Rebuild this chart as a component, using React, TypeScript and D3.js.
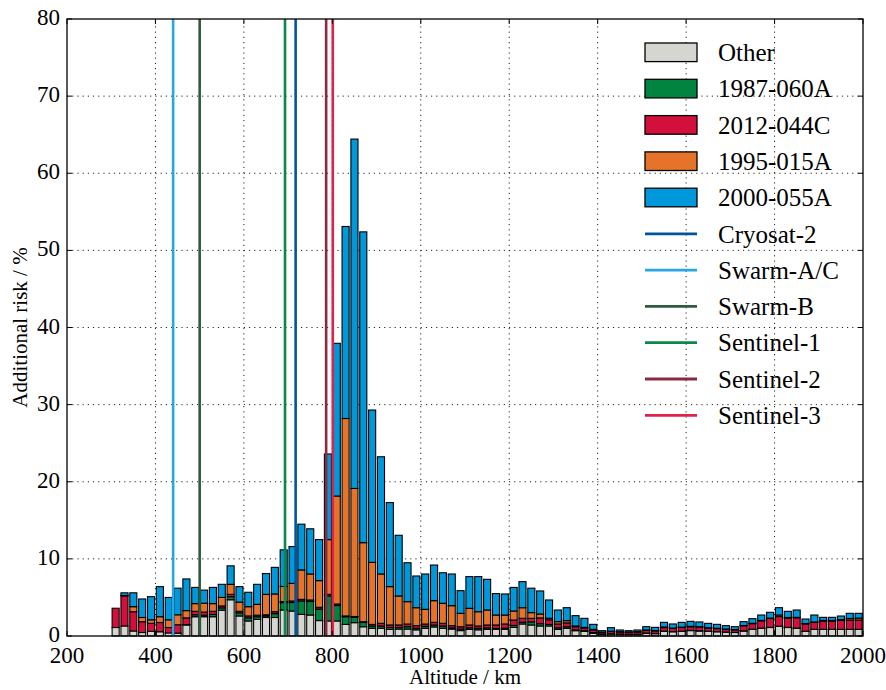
import React from 'react';
import * as d3 from 'd3';

// Bin start altitudes (km), 20 km bins
const binStart = [
  300, 320, 340, 360, 380, 400, 420, 440, 460, 480,
  500, 520, 540, 560, 580, 600, 620, 640, 660, 680,
  700, 720, 740, 760, 780, 800, 820, 840, 860, 880,
  900, 920, 940, 960, 980, 1000, 1020, 1040, 1060, 1080,
  1100, 1120, 1140, 1160, 1180, 1200, 1220, 1240, 1260, 1280,
  1300, 1320, 1340, 1360, 1380, 1400, 1420, 1440, 1460, 1480,
  1500, 1520, 1540, 1560, 1580, 1600, 1620, 1640, 1660, 1680,
  1700, 1720, 1740, 1760, 1780, 1800, 1820, 1840, 1860, 1880,
  1900, 1920, 1940, 1960, 1980,
];

const otherRisk = [
  1.1, 1.3, 0.65, 0.45, 0.6, 0.55, 0.4, 0.35, 1.43, 2.5,
  2.5, 2.5, 3.35, 4.7, 2.6, 1.95, 2.15, 2.4, 2.4, 3.37,
  3.24, 2.8, 2.72, 2.0, 1.95, 1.95, 1.5, 1.73, 1.2, 1.0,
  1.0, 0.86, 0.9, 0.9, 0.8, 1.0, 1.17, 1.0, 0.9, 0.7,
  0.86, 0.8, 0.86, 0.86, 0.86, 1.12, 1.56, 1.43, 1.3, 1.3,
  0.86, 1.0, 0.69, 0.6, 0.35, 0.2, 0.25, 0.2, 0.2, 0.2,
  0.35, 0.3, 0.6, 0.55, 0.6, 0.7, 0.65, 0.6, 0.55, 0.5,
  0.45, 0.65, 0.85, 1.0, 1.1, 1.25, 1.1, 1.0, 0.6, 0.85,
  0.85, 0.85, 0.85, 0.85, 0.85,
];

const risk1987060A = [
  0, 0, 0, 0, 0, 0, 0, 0.03, 0.05, 0.25,
  0.2, 0.3, 0.3, 0.4, 0.4, 0.4, 0.35, 0.2, 0.5, 0.95,
  1.1, 1.75, 1.75, 1.5, 3.25, 2.0, 1.0, 0.7, 0.55, 0.3,
  0.3, 0.25, 0.2, 0.3, 0.2, 0.25, 0.25, 0.3, 0.15, 0.2,
  0.2, 0.2, 0.2, 0.12, 0.15, 0.25, 0.23, 0.4, 0.3, 0.2,
  0.2, 0.2, 0.1, 0.1, 0.1, 0.05, 0.05, 0.04, 0.02, 0.02,
  0.03, 0.03, 0.04, 0.03, 0.03, 0.03, 0.03, 0.03, 0.03, 0.02,
  0.02, 0.02, 0.02, 0.02, 0.02, 0.02, 0.02, 0.02, 0.02, 0.02,
  0.02, 0.02, 0.02, 0.02, 0.02,
];

const risk2012044C = [
  2.5, 3.9, 2.5, 1.4, 1.05, 1.2, 0.7, 1.08, 0.87, 0.45,
  0.4, 0.4, 0.25, 0.3, 0.2, 0.25, 0.2, 0.15, 0.25, 0.15,
  0.2, 0.2, 0.2, 0.22, 0.2, 0.2, 0.1, 0.1, 0.1, 0.2,
  0.34, 0.32, 0.33, 0.35, 0.34, 0.3, 0.35, 0.34, 0.29, 0.3,
  0.37, 0.3, 0.37, 0.45, 0.55, 0.7, 0.5, 0.46, 0.75, 0.6,
  0.5, 0.5, 0.41, 0.32, 0.31, 0.2, 0.28, 0.28, 0.25, 0.3,
  0.35, 0.33, 0.45, 0.4, 0.47, 0.47, 0.47, 0.4, 0.38, 0.35,
  0.33, 0.66, 0.73, 0.95, 1.15, 1.25, 1.2, 1.35, 0.95, 0.9,
  1.05, 1.05, 1.15, 1.2, 1.2,
];

const risk1995015A = [
  0, 0.05, 0.65, 0.55, 0.45, 0.75, 1.0, 1.29, 0.94, 1.0,
  1.15, 1.0, 1.1, 1.3, 1.2, 1.2, 1.4, 2.65, 2.3, 1.95,
  2.29, 3.81, 3.37, 3.46, 7.1, 14.0, 25.6, 16.6, 10.25, 8.05,
  6.4, 4.97, 3.76, 2.9, 2.33, 1.91, 2.81, 2.6, 2.59, 1.74,
  2.16, 1.85, 1.94, 1.29, 1.16, 1.17, 1.38, 0.74, 0.5, 0.2,
  0.3, 0.29, 0.1, 0.1, 0.1, 0.04, 0.05, 0.04, 0.04, 0.04,
  0.05, 0.05, 0.08, 0.05, 0.05, 0.05, 0.05, 0.04, 0.04, 0.03,
  0.03, 0.03, 0.05, 0.05, 0.05, 0.2, 0.08, 0.05, 0.05, 0.05,
  0.1, 0.1, 0.1, 0.2, 0.25,
];

const risk2000055A = [
  0, 0.35, 1.8, 2.4, 3.0, 3.9, 2.9, 3.45, 4.11, 2.1,
  1.7, 2.1, 1.7, 2.4, 2.0, 1.87, 2.6, 2.7, 3.45, 4.75,
  4.77, 5.94, 5.86, 5.32, 11.1, 19.8, 24.9, 45.3, 40.3, 19.75,
  15.2, 10.9, 7.87, 5.05, 4.11, 4.58, 4.62, 3.96, 4.11, 2.94,
  4.11, 4.55, 3.98, 2.78, 2.73, 3.06, 3.38, 3.17, 2.99, 2.37,
  1.51, 1.68, 1.34, 1.17, 0.65, 0.2, 0.45, 0.22, 0.18, 0.22,
  0.43, 0.41, 0.6, 0.53, 0.62, 0.65, 0.62, 0.57, 0.51, 0.44,
  0.38, 0.5, 0.6, 0.7, 0.75, 0.95, 0.8, 0.95, 0.58, 0.9,
  0.4, 0.4, 0.47, 0.67, 0.62,
];

const seriesNames = ['Other', '1987-060A', '2012-044C', '1995-015A', '2000-055A'];
const seriesColors = ['#d6d6d0', '#00843f', '#d2103b', '#e5742a', '#0098da'];

const missionNames = ['Cryosat-2', 'Swarm-A/C', 'Swarm-B', 'Sentinel-1', 'Sentinel-2', 'Sentinel-3'];
const missionAltitudes = [717, 440, 500, 693, 786, 801];
const missionColors = ['#00549f', '#29a7e1', '#2f5a3f', '#08894a', '#892a41', '#e0224b'];

const xTicks = [200, 400, 600, 800, 1000, 1200, 1400, 1600, 1800, 2000];
const yTicks = [0, 10, 20, 30, 40, 50, 60, 70, 80];

const W = 886;
const H = 690;
const left = 67;
const right = 863;
const top = 19;
const bottom = 636;
const binWidth = 20;
const barWidth = 16;
const FONT = "'Liberation Serif', 'Times New Roman', 'DejaVu Serif', serif";

export default function App() {
  const x = d3.scaleLinear().domain([200, 2000]).range([left, right]);
  const y = d3.scaleLinear().domain([0, 80]).range([bottom, top]);

  const rows = binStart.map((b, i) => ({
    alt: b,
    s0: otherRisk[i],
    s1: risk1987060A[i],
    s2: risk2012044C[i],
    s3: risk1995015A[i],
    s4: risk2000055A[i],
  }));
  const keys = ['s0', 's1', 's2', 's3', 's4'];
  const stacked = d3.stack<any>().keys(keys)(rows);

  const barPx = x(barWidth) - x(0);

  const legendY0 = 52.3;
  const legendStep = 36.3;
  const legendItems = [
    ...seriesNames.map((n, i) => ({ name: n, color: seriesColors[i], kind: 'patch' })),
    ...missionNames.map((n, i) => ({ name: n, color: missionColors[i], kind: 'line' })),
  ];

  const txt = { fontFamily: FONT };

  return (
    <svg
      width={W}
      height={H}
      style={{ position: 'absolute', left: 0, top: 0, background: '#fff', fontFamily: FONT }}
    >
      <rect x={0} y={0} width={W} height={H} fill="#fff" />
      {/* grid */}
      <g stroke="#000" strokeWidth={1} strokeDasharray="1.2 4" opacity={0.85}>
        {xTicks.slice(1, -1).map((t) => (
          <line key={'gx' + t} x1={x(t)} x2={x(t)} y1={bottom} y2={top} />
        ))}
        {yTicks.slice(1, -1).map((t) => (
          <line key={'gy' + t} x1={left} x2={right} y1={y(t)} y2={y(t)} />
        ))}
      </g>

      {/* bars */}
      {stacked.map((layer, li) => (
        <g key={'layer' + li} fill={seriesColors[li]} stroke="#000" strokeWidth={1.1}>
          {layer.map((d: any, i: number) => {
            const y0 = y(d[0]);
            const y1 = y(d[1]);
            const cx = x(binStart[i] + binWidth / 2);
            return (
              <rect
                key={i}
                x={cx - barPx / 2}
                y={y1}
                width={barPx}
                height={Math.max(0, y0 - y1)}
              />
            );
          })}
        </g>
      ))}

      {/* mission lines */}
      {missionAltitudes.map((a, i) => (
        <line
          key={'m' + i}
          x1={x(a)}
          x2={x(a)}
          y1={y(0)}
          y2={y(80)}
          stroke={missionColors[i]}
          strokeWidth={2.6}
        />
      ))}

      {/* frame */}
      <rect x={left} y={top} width={right - left} height={bottom - top} fill="none" stroke="#000" strokeWidth={1.3} />

      {/* ticks */}
      <g stroke="#000" strokeWidth={1}>
        {xTicks.map((t) => (
          <g key={'tx' + t}>
            <line x1={x(t)} x2={x(t)} y1={bottom} y2={bottom - 5} />
            <line x1={x(t)} x2={x(t)} y1={top} y2={top + 5} />
          </g>
        ))}
        {yTicks.map((t) => (
          <g key={'ty' + t}>
            <line x1={left} x2={left + 5} y1={y(t)} y2={y(t)} />
            <line x1={right} x2={right - 5} y1={y(t)} y2={y(t)} />
          </g>
        ))}
      </g>

      {/* tick labels */}
      <g fontSize={23} fill="#000">
        {xTicks.map((t) => (
          <text key={'lx' + t} style={txt} x={x(t)} y={bottom + 27} textAnchor="middle">
            {t}
          </text>
        ))}
        {yTicks.map((t) => (
          <text key={'ly' + t} style={txt} x={left - 7} y={y(t) - 2} dy="0.35em" textAnchor="end">
            {t}
          </text>
        ))}
      </g>

      {/* axis labels */}
      <text style={txt} x={(left + right) / 2} y={684} textAnchor="middle" fontSize={21}>
        Altitude / km
      </text>
      <text
        style={txt}
        transform={`translate(27, ${(top + bottom) / 2}) rotate(-90)`}
        textAnchor="middle"
        fontSize={21}
      >
        Additional risk / %
      </text>

      {/* legend */}
      {legendItems.map((it, i) => {
        const cy = legendY0 + i * legendStep;
        return (
          <g key={'lg' + i}>
            {it.kind === 'patch' ? (
              <rect x={645} y={cy - 9.3} width={52} height={18.6} fill={it.color} stroke="#000" strokeWidth={1.3} />
            ) : (
              <line x1={645} x2={697} y1={cy} y2={cy} stroke={it.color} strokeWidth={2.8} />
            )}
            <text style={txt} x={718} y={cy} dy="0.35em" fontSize={25}>
              {it.name}
            </text>
          </g>
        );
      })}
    </svg>
  );
}
